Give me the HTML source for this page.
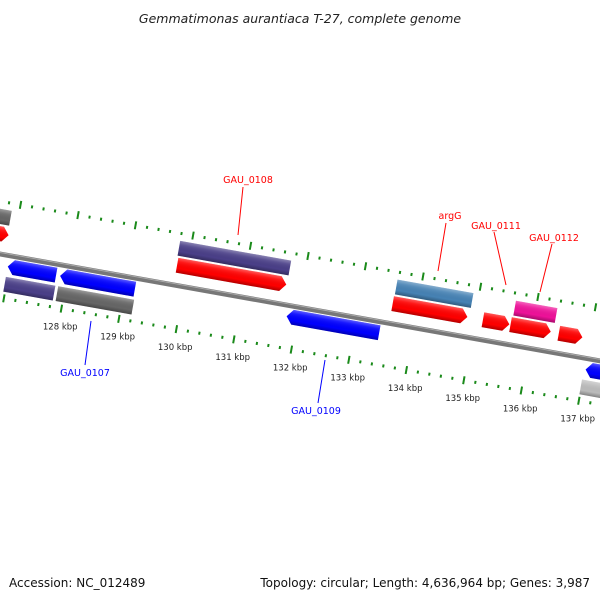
<!DOCTYPE html>
<html><head><meta charset="utf-8">
<style>
html,body{margin:0;padding:0;background:#fff;}
svg{display:block;font-family:"DejaVu Sans","Liberation Sans",sans-serif;}
</style></head>
<body>
<svg id="map" width="600" height="600" viewBox="0 0 600 600" xmlns="http://www.w3.org/2000/svg">
<defs>
  <linearGradient id="gshade" x1="0" y1="0" x2="0" y2="1">
    <stop offset="0" stop-color="#fff" stop-opacity="0.35"/>
    <stop offset="0.25" stop-color="#fff" stop-opacity="0.1"/>
    <stop offset="0.7" stop-color="#000" stop-opacity="0"/>
    <stop offset="1" stop-color="#000" stop-opacity="0.3"/>
  </linearGradient>
</defs>
<rect width="600" height="600" fill="#fff"/>
<text x="300" y="23" text-anchor="middle" font-size="12.5" font-style="italic" fill="#222">Gemmatimonas aurantiaca T-27, complete genome</text>
<g id="rot" transform="translate(0,254) rotate(10.1)">
  <line x1="-50" y1="0" x2="700" y2="0" stroke="#777" stroke-width="5"/>
  <line x1="-50" y1="-1.5" x2="700" y2="-1.5" stroke="#aaa" stroke-width="1"/>
  <g id="ticks"></g>
  <g id="genes"></g>
</g>
<g id="labels"></g>
<g>
  <line x1="243" y1="187" x2="238" y2="235" stroke="#f00" stroke-width="1"/>
  <text x="248" y="183" text-anchor="middle" font-size="9.5" fill="#f00">GAU_0108</text>
  <line x1="446" y1="223" x2="438" y2="271" stroke="#f00" stroke-width="1"/>
  <text x="450" y="219" text-anchor="middle" font-size="9.5" fill="#f00">argG</text>
  <line x1="494" y1="232" x2="506" y2="285" stroke="#f00" stroke-width="1"/>
  <text x="496" y="229" text-anchor="middle" font-size="9.5" fill="#f00">GAU_0111</text>
  <line x1="552" y1="244" x2="540" y2="292" stroke="#f00" stroke-width="1"/>
  <text x="554" y="241" text-anchor="middle" font-size="9.5" fill="#f00">GAU_0112</text>
  <line x1="85" y1="365" x2="91" y2="321" stroke="#00f" stroke-width="1"/>
  <text x="85" y="376" text-anchor="middle" font-size="9.5" fill="#00f">GAU_0107</text>
  <line x1="318" y1="403" x2="325" y2="360" stroke="#00f" stroke-width="1"/>
  <text x="316" y="414" text-anchor="middle" font-size="9.5" fill="#00f">GAU_0109</text>
</g>
<text x="9" y="587" font-size="12" fill="#111">Accession: NC_012489</text>
<text x="590" y="587" text-anchor="end" font-size="12" fill="#111">Topology: circular; Length: 4,636,964 bp; Genes: 3,987</text>
</svg>
<script>
// data
const geneStart = [126.60,126.62,126.97,126.97,127.88,127.88,129.80,129.82,131.82,133.58,133.57,135.14,135.64,135.62,136.46,137.02,136.99];
const geneEnd   = [126.87,126.89,127.81,127.83,129.18,129.20,131.73,131.72,133.43,134.90,134.87,135.60,136.36,136.32,136.87,137.60,137.60];
const geneRow   = [-37,-20,11,29,11,29,-37,-20,11,-37,-20,-20,-37,-20,-20,11,29];
const geneDir   = [0,1,-1,0,-1,0,0,1,-1,0,1,1,0,1,1,-1,0];
const geneColor = ["#666666","#ff0000","#0000ff","#4a3f88","#0000ff","#666666","#4a3f88","#ff0000","#0000ff","#4682b4","#ff0000","#ff0000","#ee1199","#ff0000","#ff0000","#0000ff","#bbbbbb"];
const kbpTicks  = [128,129,130,131,132,133,134,135,136,137];

const NS='http://www.w3.org/2000/svg';
const U0=70, PX_PER_KBP=58.4, ANG=10.1*Math.PI/180;
function u(k){return U0+(k-128)*PX_PER_KBP;}
function toScreen(uu,v){return [uu*Math.cos(ANG)-v*Math.sin(ANG), 254+uu*Math.sin(ANG)+v*Math.cos(ANG)];}

const tg=document.getElementById('ticks');
for(let i=Math.round(126.4*5);i<=Math.round(138*5);i++){
  const k=i/5, major=(i%5===0);
  [-52,43].forEach(function(vc){
    const l=document.createElementNS(NS,'line');
    const len=major?8:3;
    l.setAttribute('x1',u(k));l.setAttribute('x2',u(k));
    l.setAttribute('y1',vc-len/2);l.setAttribute('y2',vc+len/2);
    l.setAttribute('stroke','#1a8a1a');l.setAttribute('stroke-width','2');
    
    
    tg.appendChild(l);
  });
}
const lg=document.getElementById('labels');
kbpTicks.forEach(function(k){
  const p=toScreen(u(k),61);
  const t=document.createElementNS(NS,'text');
  t.setAttribute('x',p[0]+2);t.setAttribute('y',p[1]+3);
  t.setAttribute('text-anchor','middle');t.setAttribute('font-size','8.5');t.setAttribute('fill','#222');
  t.textContent=k+' kbp';
  
  
  lg.appendChild(t);
});
const gg=document.getElementById('genes');
const H=15, AH=6;
for(let i=0;i<geneStart.length;i++){
  const a=u(geneStart[i]), b=u(geneEnd[i]), c=geneRow[i], t=c-H/2, bt=c+H/2;
  let d;
  if(geneDir[i]===1) d=`M${a},${t}L${b-AH},${t}L${b},${c}L${b-AH},${bt}L${a},${bt}Z`;
  else if(geneDir[i]===-1) d=`M${a+AH},${t}L${b},${t}L${b},${bt}L${a+AH},${bt}L${a},${c}Z`;
  else d=`M${a},${t}L${b},${t}L${b},${bt}L${a},${bt}Z`;
  const p=document.createElementNS(NS,'path');
  p.setAttribute('d',d);p.setAttribute('fill',geneColor[i]);
  
  
  gg.appendChild(p);
  const s=document.createElementNS(NS,'path');
  s.setAttribute('d',d);s.setAttribute('fill','url(#gshade)');
  
  
  gg.appendChild(s);
}
</script>
</body></html>
